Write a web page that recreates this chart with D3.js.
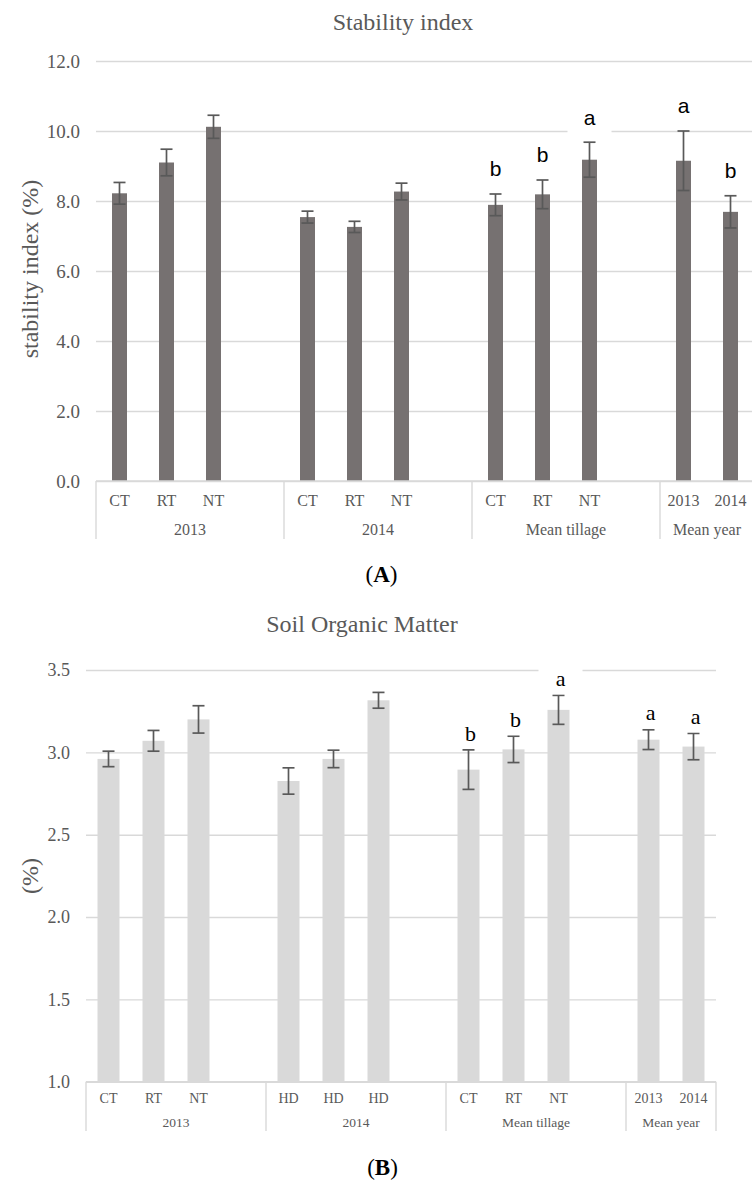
<!DOCTYPE html>
<html>
<head>
<meta charset="utf-8">
<script src="https://cdn.jsdelivr.net/npm/d3@7"></script>
<style>
  body { margin: 0; background: #fff; }
  svg { display: block; }
</style>
</head>
<body>
<div id="chart"></div>
<script>
// ---- data: panel A (stability index) ----
const siTicks   = ["CT", "RT", "NT", "CT", "RT", "NT", "CT", "RT", "NT", "2013", "2014"];
const siGroups  = ["2013", "2013", "2013", "2014", "2014", "2014",
                   "Mean tillage", "Mean tillage", "Mean tillage", "Mean year", "Mean year"];
const siValues  = [8.22, 9.10, 10.12, 7.54, 7.26, 8.27, 7.89, 8.19, 9.18, 9.15, 7.69];
const siErrors  = [0.31, 0.38, 0.33, 0.17, 0.16, 0.24, 0.31, 0.41, 0.50, 0.85, 0.46];
const siLetters = ["", "", "", "", "", "", "b", "b", "a", "a", "b"];
const siYTicks  = [0, 2, 4, 6, 8, 10, 12];

// ---- data: panel B (soil organic matter) ----
const somTicks   = ["CT", "RT", "NT", "HD", "HD", "HD", "CT", "RT", "NT", "2013", "2014"];
const somGroups  = ["2013", "2013", "2013", "2014", "2014", "2014",
                    "Mean tillage", "Mean tillage", "Mean tillage", "Mean year", "Mean year"];
const somValues  = [2.96, 3.07, 3.20, 2.826, 2.96, 3.316, 2.895, 3.018, 3.258, 3.077, 3.035];
const somErrors  = [0.047, 0.063, 0.083, 0.08, 0.053, 0.048, 0.12, 0.08, 0.088, 0.06, 0.08];
const somLetters = ["", "", "", "", "", "", "b", "b", "a", "a", "a"];
const somYTicks  = [1.0, 1.5, 2.0, 2.5, 3.0, 3.5];

const W = 752, H = 1180;
const textGray = "#595959";
const gridGray = "#d9d9d9";
const serif = "'Liberation Serif', 'Times New Roman', serif";

const svg = d3.select("#chart").append("svg")
  .attr("width", W)
  .attr("height", H)
  .attr("viewBox", `0 0 ${W} ${H}`);

svg.append("rect").attr("width", W).attr("height", H).attr("fill", "#fff");

function drawPanel(p) {
  const g = svg.append("g");

  // slot keys: items of each group, then one blank slot between groups
  const groupNames = Array.from(new Set(p.groups));
  const keys = [];
  groupNames.forEach((gn, gi) => {
    p.ticks.forEach((t, i) => { if (p.groups[i] === gn) keys.push(i); });
    if (gi < groupNames.length - 1) keys.push("gap" + gi);
  });

  const x = d3.scaleBand()
    .domain(keys)
    .range([p.x0, p.x0 + keys.length * p.slot]);

  const y = d3.scaleLinear()
    .domain(p.domain)
    .range([p.yBottom, p.yTop]);

  // gridlines
  g.append("g")
    .attr("transform", `translate(${p.x0},0)`)
    .call(d3.axisLeft(y).tickValues(p.yTicks).tickSize(-(keys.length * p.slot)).tickFormat(""))
    .call(s => s.select(".domain").remove())
    .call(s => s.selectAll(".tick line").attr("stroke", gridGray).attr("stroke-width", 1.4));

  // y tick labels
  g.append("g")
    .attr("transform", `translate(${p.tickX},0)`)
    .call(d3.axisLeft(y).tickValues(p.yTicks).tickSize(0).tickPadding(0).tickFormat(d3.format(".1f")))
    .call(s => s.select(".domain").remove())
    .call(s => s.selectAll("text")
      .attr("fill", textGray)
      .style("font-family", serif)
      .style("font-size", p.tickFont + "px"));

  // bars
  const idx = d3.range(p.values.length);
  g.selectAll("rect.bar")
    .data(idx)
    .join("rect")
    .attr("class", "bar")
    .attr("x", i => x(i) + (x.bandwidth() - p.barW) / 2)
    .attr("width", p.barW)
    .attr("y", i => y(p.values[i]))
    .attr("height", i => y(p.domain[0]) - y(p.values[i]))
    .attr("fill", p.barColor);

  // error bars
  const eb = g.selectAll("g.err")
    .data(idx)
    .join("g")
    .attr("class", "err")
    .attr("stroke", "#595959")
    .attr("stroke-width", 1.7);
  eb.append("line")
    .attr("x1", i => x(i) + x.bandwidth() / 2)
    .attr("x2", i => x(i) + x.bandwidth() / 2)
    .attr("y1", i => y(p.values[i] - p.errors[i]))
    .attr("y2", i => y(p.values[i] + p.errors[i]));
  [-1, 1].forEach(sgn => {
    eb.append("line")
      .attr("x1", i => x(i) + x.bandwidth() / 2 - 6)
      .attr("x2", i => x(i) + x.bandwidth() / 2 + 6)
      .attr("y1", i => y(p.values[i] + sgn * p.errors[i]))
      .attr("y2", i => y(p.values[i] + sgn * p.errors[i]));
  });

  // significance letters with white label boxes
  const lab = g.selectAll("g.letter")
    .data(idx.filter(i => p.letters[i]))
    .join("g")
    .attr("class", "letter")
    .attr("transform", i => `translate(${x(i) + x.bandwidth() / 2 + p.letterDx},${y(p.values[i] + p.errors[i]) - p.letterOffset})`);
  lab.append("rect")
    .attr("x", -22).attr("y", -16).attr("width", 44).attr("height", 32)
    .attr("fill", "#fff");
  lab.append("text")
    .attr("text-anchor", "middle")
    .attr("dy", "0.35em")
    .style("font-family", p.letterFont)
    .style("font-size", p.letterSize + "px")
    .attr("fill", "#000")
    .text(i => p.letters[i]);

  // category axis line
  const xEnd = p.x0 + keys.length * p.slot;
  g.append("line")
    .attr("x1", p.x0).attr("x2", xEnd)
    .attr("y1", y(p.domain[0])).attr("y2", y(p.domain[0]))
    .attr("stroke", gridGray).attr("stroke-width", 1.4);

  // tick labels
  g.selectAll("text.cat")
    .data(idx)
    .join("text")
    .attr("class", "cat")
    .attr("x", i => x(i) + x.bandwidth() / 2)
    .attr("y", p.catY)
    .attr("dy", "0.35em")
    .attr("text-anchor", "middle")
    .attr("fill", textGray)
    .style("font-family", serif)
    .style("font-size", p.catFont + "px")
    .text(i => p.ticks[i]);

  // group labels and separators
  const spans = groupNames.map(gn => {
    const members = idx.filter(i => p.groups[i] === gn);
    const start = x(members[0]);
    const lastKey = keys.indexOf(members[members.length - 1]);
    const next = keys[lastKey + 1];
    const end = next !== undefined ? x(next) + x.bandwidth() : x(members[members.length - 1]) + x.bandwidth();
    return { name: gn, start, end };
  });

  const seps = [spans[0].start].concat(spans.map(s => s.end));
  g.selectAll("line.sep")
    .data(seps)
    .join("line")
    .attr("class", "sep")
    .attr("x1", d => d).attr("x2", d => d)
    .attr("y1", y(p.domain[0])).attr("y2", p.sepBottom)
    .attr("stroke", gridGray).attr("stroke-width", 1.4);

  g.selectAll("text.grp")
    .data(spans)
    .join("text")
    .attr("class", "grp")
    .attr("x", d => (d.start + d.end) / 2)
    .attr("y", p.grpY)
    .attr("dy", "0.35em")
    .attr("text-anchor", "middle")
    .attr("fill", textGray)
    .style("font-family", serif)
    .style("font-size", p.grpFont + "px")
    .text(d => d.name);

  // chart title
  g.append("text")
    .attr("x", p.titleX).attr("y", p.titleY)
    .attr("text-anchor", "middle")
    .attr("fill", textGray)
    .style("font-family", serif)
    .style("font-size", "24px")
    .text(p.title);

  // y axis title
  g.append("text")
    .attr("transform", `translate(${p.yTitleX},${p.yTitleY}) rotate(-90)`)
    .attr("text-anchor", "middle")
    .attr("fill", textGray)
    .style("font-family", serif)
    .style("font-size", "24px")
    .text(p.yTitle);

  // panel letter
  const pl = g.append("text")
    .attr("x", p.panelX).attr("y", p.panelY)
    .attr("text-anchor", "middle")
    .attr("fill", "#000")
    .style("font-family", serif)
    .style("font-size", "23px");
  pl.append("tspan").text("(");
  pl.append("tspan").attr("font-weight", "bold").text(p.panel);
  pl.append("tspan").text(")");
}

drawPanel({
  ticks: siTicks, groups: siGroups, values: siValues, errors: siErrors, letters: siLetters,
  yTicks: siYTicks, domain: [0, 12],
  x0: 96, slot: 47, barW: 15, yTop: 61, yBottom: 481,
  barColor: "#767171",
  tickX: 80, tickFont: 19,
  catY: 500, grpY: 529, sepBottom: 539, catFont: 16, grpFont: 16,
  letterFont: "'Liberation Sans', Arial, sans-serif", letterSize: 21, letterOffset: 25, letterDx: 0,
  title: "Stability index", titleX: 403, titleY: 30,
  yTitle: "stability index (%)", yTitleX: 38, yTitleY: 269,
  panel: "A", panelX: 381.5, panelY: 582
});

drawPanel({
  ticks: somTicks, groups: somGroups, values: somValues, errors: somErrors, letters: somLetters,
  yTicks: somYTicks, domain: [1, 3.5],
  x0: 86, slot: 45, barW: 22, yTop: 670, yBottom: 1081.7,
  barColor: "#d9d9d9",
  tickX: 70, tickFont: 18,
  catY: 1098, grpY: 1122, sepBottom: 1131, catFont: 14, grpFont: 13.5,
  letterFont: serif, letterSize: 22, letterOffset: 17, letterDx: 2,
  title: "Soil Organic Matter", titleX: 362, titleY: 632,
  yTitle: "(%)", yTitleX: 38, yTitleY: 876,
  panel: "B", panelX: 382.5, panelY: 1175
});
</script>
</body>
</html>
